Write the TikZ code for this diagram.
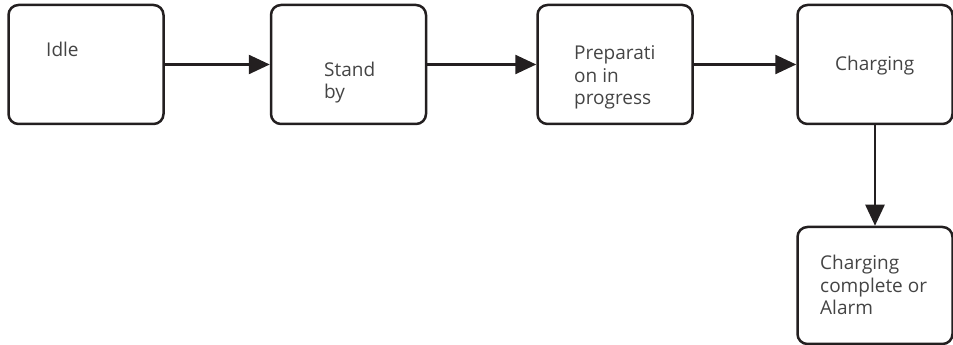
\documentclass[tikz,border=0pt]{standalone}
\usepackage{fontspec}
\setmainfont{Open Sans}
\usetikzlibrary{arrows.meta,positioning}
\definecolor{stline}{HTML}{231F20}
\definecolor{sttext}{HTML}{444444}
\tikzset{
  statebox/.style={draw=stline,line width=2.5pt,rounded corners=10pt,
    minimum width=155pt,minimum height=119pt,inner sep=0pt},
  statetext/.style={anchor=base west,inner sep=0pt,align=left,text=sttext,
    font=\fontsize{19}{22.5}\selectfont},
  flow/.style={draw=stline,line width=2.5pt,-{Triangle[length=21pt,width=19pt]}}
}
\begin{document}
\begin{tikzpicture}[x=1pt,y=1pt]
  \useasboundingbox (0,0) rectangle (953,345);

  % ---- States (top row) ---------------------------------------
  \node[statebox] (idle)    at (86,280.5)  {};
  \node[statebox] (standby) at (348.5,280.5) {};
  \node[statebox] (prep)    at (615,280.5) {};
  \node[statebox] (charging) at (875,280.5) {};
  % End state below
  \node[statebox,minimum height=117pt] (done) at (875,59.5) {};

  % ---- Labels (base = last line) ------------------------------
  \node[statetext] (idlelabel)     at (46,288)  {Idle};
  \node[statetext] (standbylabel)  at (324,246) {Stand\\by};
  \node[statetext] (preplabel)     at (574,240) {Preparati\\on in\\progress};
  \node[statetext] (charginglabel) at (835,274) {Charging};
  \node[statetext] (donelabel)     at (820,30)  {Charging\\complete or\\Alarm};

  % ---- Transitions --------------------------------------------
  \draw[flow] (idle.east) -- (standby.west);
  \draw[flow] (standby.east) -- (prep.west);
  \draw[flow] (prep.east) -- (charging.west);
  \draw[flow] (charging.south) -- (done.north);

\end{tikzpicture}
\end{document}
